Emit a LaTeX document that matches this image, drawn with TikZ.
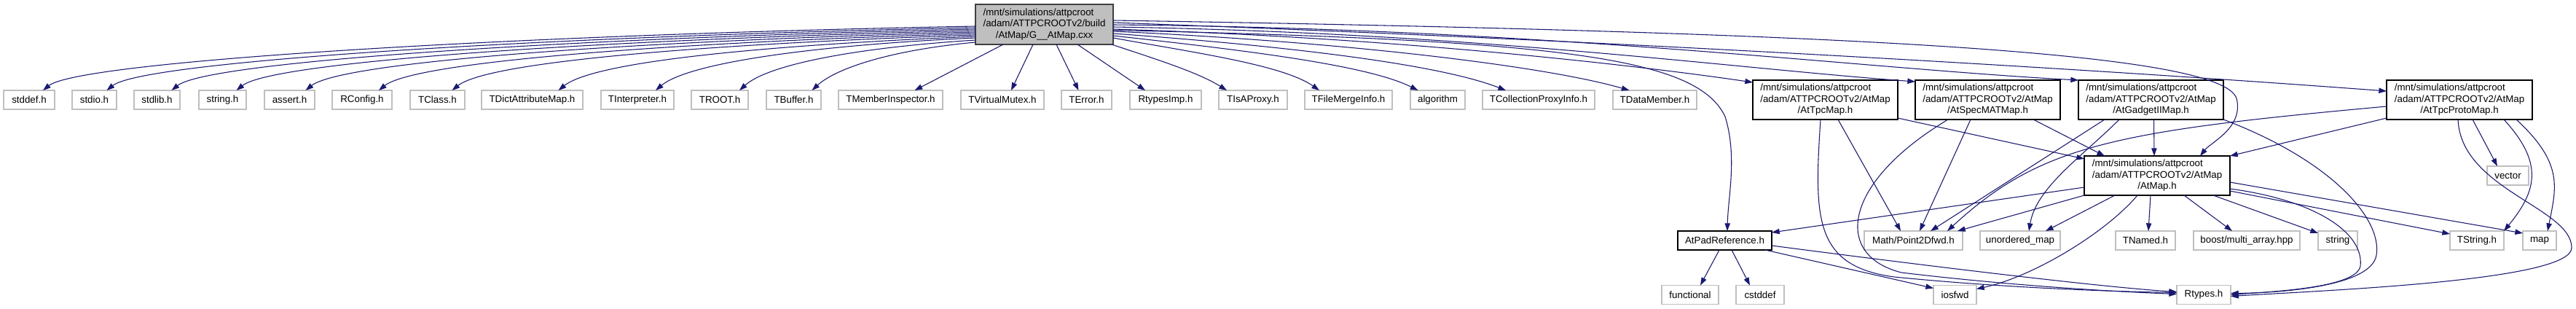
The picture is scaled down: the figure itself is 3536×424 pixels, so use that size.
\documentclass[tikz,border=0pt]{standalone}
\usepackage{fontspec}
\setmainfont{Liberation Sans}
\usetikzlibrary{arrows.meta}
\definecolor{navyedge}{HTML}{191970}
\definecolor{lgray}{HTML}{BFBFBF}
\definecolor{dgray}{HTML}{404040}
\newcommand\threelines[3]{\begin{tabular}{@{}l@{}}#1\\#2\\\multicolumn{1}{@{}c@{}}{#3}\end{tabular}}
\tikzset{
  every node/.style={font=\fontsize{10}{11.6}\selectfont, inner sep=0pt, outer sep=0pt},
  lf/.style={draw=lgray, line width=0.9pt, fill=white, minimum height=26*0.75pt, minimum width=#1*0.75pt},
  doc/.style={draw=black, line width=0.85pt, fill=white, minimum height=54*0.75pt, minimum width=#1*0.75pt},
  dep/.style={draw=navyedge, line width=0.8pt, -{Triangle[length=8pt,width=5.5pt]}},
}
\begin{document}
\begin{tikzpicture}[x=0.75pt,y=0.75pt]
\path[fill=white, use as bounding box] (0,0) rectangle (3536,-424);
% main
\node[draw=dgray, fill=lgray, line width=0.9pt, minimum width=189*0.75pt, minimum height=55*0.75pt] (main) at (1433.5,-33.5)
  {\threelines{/mnt/simulations/attpcroot}{/adam/ATTPCROOTv2/build}{/AtMap/G\_\_AtMap.cxx}};
% leaf row
\node[lf=70]  (stddef)  at (40,-137)     {stddef.h};
\node[lf=61]  (stdio)   at (129.5,-137)  {stdio.h};
\node[lf=63]  (stdlib)  at (215.5,-137)  {stdlib.h};
\node[lf=65]  (strh)    at (305.5,-137)  {string.h};
\node[lf=69]  (assert)  at (397.5,-137)  {assert.h};
\node[lf=82]  (rconfig) at (497,-137)    {RConfig.h};
\node[lf=75]  (tclass)  at (600.5,-137)  {TClass.h};
\node[lf=139] (tdict)   at (730.5,-137)  {TDictAttributeMap.h};
\node[lf=100] (tinterp) at (875,-137)    {TInterpreter.h};
\node[lf=78]  (troot)   at (988,-137)    {TROOT.h};
\node[lf=75]  (tbuffer) at (1089.5,-137) {TBuffer.h};
\node[lf=143] (tmi)     at (1222.5,-137) {TMemberInspector.h};
\node[lf=114] (tvm)     at (1376,-137)   {TVirtualMutex.h};
\node[lf=69]  (terr)    at (1491.5,-137) {TError.h};
\node[lf=98]  (rimp)    at (1600,-137)   {RtypesImp.h};
\node[lf=94]  (tisa)    at (1720,-137)   {TIsAProxy.h};
\node[lf=120] (tfm)     at (1851,-137)   {TFileMergeInfo.h};
\node[lf=75]  (algo)    at (1973.5,-137) {algorithm};
\node[lf=154] (tcpi)    at (2112,-137)   {TCollectionProxyInfo.h};
\node[lf=115] (tdm)     at (2271.5,-137) {TDataMember.h};
% documented headers
\node[doc=199] (tpc)   at (2505.5,-137) {\threelines{/mnt/simulations/attpcroot}{/adam/ATTPCROOTv2/AtMap}{/AtTpcMap.h}};
\node[doc=199] (spec)  at (2728.5,-137) {\threelines{/mnt/simulations/attpcroot}{/adam/ATTPCROOTv2/AtMap}{/AtSpecMATMap.h}};
\node[doc=199] (gad)   at (2952.5,-137) {\threelines{/mnt/simulations/attpcroot}{/adam/ATTPCROOTv2/AtMap}{/AtGadgetIIMap.h}};
\node[doc=200] (proto) at (3376,-137)   {\threelines{/mnt/simulations/attpcroot}{/adam/ATTPCROOTv2/AtMap}{/AtTpcProtoMap.h}};
\node[doc=200] (atmap) at (2961,-241)   {\threelines{/mnt/simulations/attpcroot}{/adam/ATTPCROOTv2/AtMap}{/AtMap.h}};
\node[lf=57] (vec) at (3442.5,-241) {vector};
% third row
\node[lf=129, draw=black, line width=0.85pt] (apr) at (2367.5,-330) {AtPadReference.h};
\node[lf=135] (ptd)    at (2626.5,-330) {Math/Point2Dfwd.h};
\node[lf=110] (umap)   at (2773,-330)   {unordered\_map};
\node[lf=82]  (tnamed) at (2945,-330)   {TNamed.h};
\node[lf=146] (boost)  at (3084,-330)   {boost/multi\_array.hpp};
\node[lf=54]  (strg)   at (3209,-330)   {string};
\node[lf=74]  (tstr)   at (3400,-330)   {TString.h};
\node[lf=46]  (mapn)   at (3486,-330)   {map};
% bottom row
\node[lf=78] (func)   at (2320,-404.5)   {functional};
\node[lf=66] (cstd)   at (2416,-404.5)   {cstddef};
\node[lf=59] (iosfwd) at (2683.5,-404.5) {iosfwd};
\node[lf=74] (rtypes) at (3025,-404.5)   {Rtypes.h};
% edges from main, left
\draw[dep] ([shift={(0,-2.5)}]main.west) .. controls +(-640,-12) and +(50,40) .. ([shift={(19,0)}]stddef.north);
\draw[dep] ([shift={(0,-4.5)}]main.west) .. controls +(-596,-12) and +(50,40) .. ([shift={(17,0)}]stdio.north);
\draw[dep] ([shift={(0,-6.5)}]main.west) .. controls +(-552,-12) and +(50,40) .. ([shift={(20,0)}]stdlib.north);
\draw[dep] ([shift={(0,-8.5)}]main.west) .. controls +(-507,-12) and +(50,40) .. ([shift={(19,0)}]strh.north);
\draw[dep] ([shift={(0,-10.5)}]main.west) .. controls +(-460,-12) and +(50,40) .. ([shift={(22,0)}]assert.north);
\draw[dep] ([shift={(0,-12.5)}]main.west) .. controls +(-410,-12) and +(50,40) .. ([shift={(23,0)}]rconfig.north);
\draw[dep] ([shift={(0,-14.5)}]main.west) .. controls +(-360,-12) and +(50,40) .. ([shift={(20,0)}]tclass.north);
\draw[dep] ([shift={(0,-16.5)}]main.west) .. controls +(-286,-12) and +(50,40) .. ([shift={(36,0)}]tdict.north);
\draw[dep] ([shift={(0,-18.5)}]main.west) .. controls +(-220,-10) and +(45,38) .. ([shift={(25,0)}]tinterp.north);
\draw[dep] ([shift={(0,-21.5)}]main.west) .. controls +(-160,-10) and +(40,36) .. ([shift={(27,0)}]troot.north);
\draw[dep] ([shift={(0,-24.5)}]main.west) .. controls +(-110,-10) and +(35,32) .. ([shift={(25,0)}]tbuffer.north);
% edges from main, below
\draw[dep] ([shift={(-56.5,0)}]main.south) -- ([shift={(33,0)}]tmi.north);
\draw[dep] ([shift={(-15.5,0)}]main.south) -- ([shift={(12,0)}]tvm.north);
\draw[dep] ([shift={(16.5,0)}]main.south) -- ([shift={(-11,0)}]terr.north);
\draw[dep] ([shift={(45.5,0)}]main.south) -- ([shift={(-28,0)}]rimp.north);
\draw[dep] ([shift={(-2,0)}]main.south east) .. controls +(60,-20) and +(-40,25) .. ([shift={(-36,0)}]tisa.north);
% edges from main, right
\draw[dep] ([shift={(0,-18.5)}]main.east) .. controls +(110,-20) and +(-50,35) .. ([shift={(-40,0)}]tfm.north);
\draw[dep] ([shift={(0,-15.5)}]main.east) .. controls +(180,-20) and +(-70,35) .. ([shift={(-27,0)}]algo.north);
\draw[dep] ([shift={(0,-12.5)}]main.east) .. controls +(250,-18) and +(-90,35) .. ([shift={(-45,0)}]tcpi.north);
\draw[dep] ([shift={(0,-9.5)}]main.east) .. controls +(330,-15) and +(-110,32) .. ([shift={(-35,0)}]tdm.north);
\draw[dep] ([shift={(0,-6.5)}]main.east) .. controls +(400,-12) and +(-150,22) .. ([shift={(0,-3)}]tpc.north west);
\draw[dep] ([shift={(0,-3.5)}]main.east) .. controls +(500,-8) and +(-250,18) .. ([shift={(0,-2)}]spec.north west);
\draw[dep] ([shift={(0,-0.5)}]main.east) .. controls +(600,-5) and +(-300,16) .. (gad.north west);
\draw[dep] ([shift={(0,2.5)}]main.east) .. controls +(700,-25) and +(-400,30) .. ([shift={(0,12)}]proto.west);
\draw[dep] ([shift={(0,5.5)}]main.east) .. controls (2600,-45) and (3050,-75) .. (3070,-135) .. controls (3080,-175) and (3035,-195) .. ([shift={(59,0)}]atmap.north);
\draw[dep] ([shift={(0,-8)}]main.east) .. controls (2150,-55) and (2330,-80) .. (2368,-160) .. controls (2385,-215) and (2372,-270) .. ([shift={(3.5,0)}]apr.north);
% AtTpcMap
\draw[dep] ([shift={(0,2)}]tpc.south east) -- ([shift={(0,-4)}]atmap.north west);
\draw[dep] ([shift={(17.5,0)}]tpc.south) -- ([shift={(-17.5,0)}]ptd.north);
\draw[dep] ([shift={(-6.5,0)}]tpc.south) .. controls (2490,-300) and (2490,-365) .. (2600,-380) .. controls (2750,-395) and (2900,-400) .. ([shift={(0,3)}]rtypes.west);
% AtSpecMATMap
\draw[dep] ([shift={(62.5,0)}]spec.south) -- ([shift={(-72,0)}]atmap.north);
\draw[dep] ([shift={(-23.5,0)}]spec.south) -- ([shift={(8.5,0)}]ptd.north);
\draw[dep] ([shift={(-54.5,0)}]spec.south) .. controls (2530,-250) and (2515,-350) .. (2610,-374) .. controls (2760,-392) and (2900,-400) .. ([shift={(0,1)}]rtypes.west);
% AtGadgetIIMap
\draw[dep] ([shift={(4,0)}]gad.south) -- ([shift={(-4,0)}]atmap.north);
\draw[dep] ([shift={(-63.5,0)}]gad.south) -- ([shift={(23.5,0)}]ptd.north);
\draw[dep] ([shift={(-43.5,0)}]gad.south) .. controls +(-50,-50) and +(10,60) .. ([shift={(12,0)}]umap.north);
\draw[dep] (gad.south east) .. controls (3200,-220) and (3270,-300) .. (3262,-350) .. controls (3255,-395) and (3120,-402) .. ([shift={(0,2)}]rtypes.east);
% AtTpcProtoMap
\draw[dep] ([shift={(0,-25)}]proto.west) -- (atmap.north east);
\draw[dep] ([shift={(0,-9)}]proto.west) .. controls (2900,-180) and (2800,-200) .. ([shift={(46.5,0)}]ptd.north);
\draw[dep] ([shift={(18,0)}]proto.south) -- ([shift={(-14.5,0)}]vec.north);
\draw[dep] ([shift={(61,0)}]proto.south) .. controls +(55,-60) and +(45,55) .. ([shift={(37,0)}]tstr.north);
\draw[dep] ([shift={(78,0)}]proto.south) .. controls +(65,-60) and +(12,60) .. ([shift={(11,0)}]mapn.north);
\draw[dep] ([shift={(-2,0)}]proto.south) .. controls (3378,-260) and (3530,-285) .. (3530,-340) .. controls (3530,-385) and (3200,-398) .. ([shift={(0,-2)}]rtypes.east);
% AtMap
\draw[dep] ([shift={(0,-16)}]atmap.west) -- ([shift={(0,-2)}]apr.north east);
\draw[dep] (atmap.south west) -- ([shift={(60.5,0)}]ptd.north);
\draw[dep] ([shift={(-58,0)}]atmap.south) -- ([shift={(35,0)}]umap.north);
\draw[dep] ([shift={(-9,0)}]atmap.south) -- ([shift={(4,0)}]tnamed.north);
\draw[dep] ([shift={(37,0)}]atmap.south) -- ([shift={(-20,0)}]boost.north);
\draw[dep] ([shift={(77,0)}]atmap.south) -- ([shift={(0,-3)}]strg.north west);
\draw[dep] ([shift={(0,-21)}]atmap.east) -- ([shift={(0,-4)}]tstr.north west);
\draw[dep] ([shift={(0,-9)}]atmap.east) -- ([shift={(0,-3)}]mapn.north west);
\draw[dep] ([shift={(-27,0)}]atmap.south) .. controls (2890,-320) and (2790,-380) .. ([shift={(0,-5)}]iosfwd.north east);
\draw[dep] ([shift={(0,-18)}]atmap.east) .. controls (3180,-275) and (3245,-320) .. (3240,-365) .. controls (3235,-395) and (3120,-400) .. (rtypes.east);
% AtPadReference
\draw[dep] ([shift={(-7.5,0)}]apr.south) -- ([shift={(14,0)}]func.north);
\draw[dep] ([shift={(9.5,0)}]apr.south) -- ([shift={(-14,0)}]cstd.north);
\draw[dep] ([shift={(55.5,0)}]apr.south) -- ([shift={(0,-4)}]iosfwd.north west);
\draw[dep] ([shift={(0,-7)}]apr.east) .. controls (2700,-372) and (2900,-395) .. ([shift={(0,4)}]rtypes.west);
\end{tikzpicture}
\end{document}
